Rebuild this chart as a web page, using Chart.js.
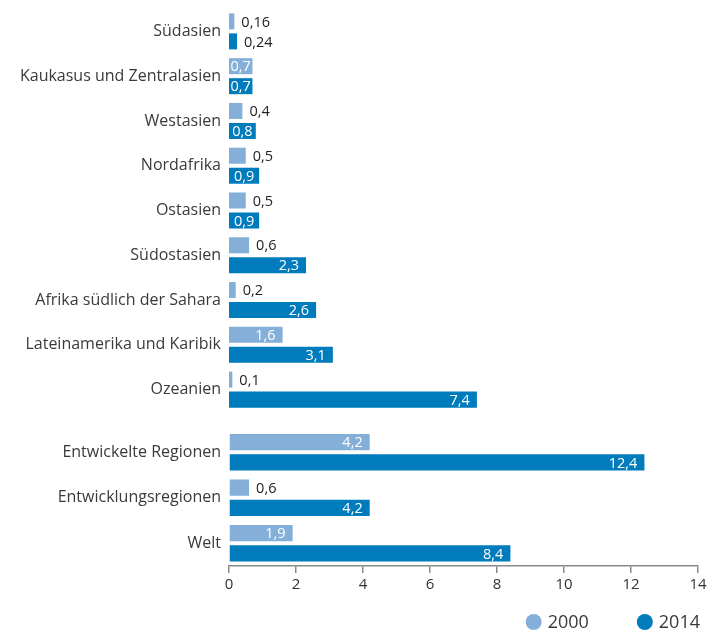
<!DOCTYPE html>
<html lang="de">
<head>
    <meta charset="UTF-8">
    <title>Regionen 2000 / 2014</title>
    <style>
        body {
            margin: 0;
            padding: 0;
            background: #ffffff;
        }
        .wrap {
            width: 712px;
            height: 636px;
            position: relative;
        }
        #topBox {
            position: absolute;
            left: 0;
            top: 0;
            width: 712px;
            height: 412px;
        }
        #bottomBox {
            position: absolute;
            left: 0;
            top: 412px;
            width: 712px;
            height: 224px;
        }
    </style>
    <script src="https://cdn.jsdelivr.net/npm/chart.js"></script>
</head>
<body>
    <div class="wrap">
        <div id="topBox"><canvas id="topChart"></canvas></div>
        <div id="bottomBox"><canvas id="bottomChart"></canvas></div>
    </div>

    <script>
        // regions (upper block) and aggregates (lower block)
        const regions = ['Südasien', 'Kaukasus und Zentralasien', 'Westasien', 'Nordafrika', 'Ostasien',
            'Südostasien', 'Afrika südlich der Sahara', 'Lateinamerika und Karibik', 'Ozeanien'];
        const regions2000 = [0.16, 0.7, 0.4, 0.5, 0.5, 0.6, 0.2, 1.6, 0.1];
        const regions2014 = [0.24, 0.7, 0.8, 0.9, 0.9, 2.3, 2.6, 3.1, 7.4];

        const groups = ['Entwickelte Regionen', 'Entwicklungsregionen', 'Welt'];
        const groups2000 = [4.2, 0.6, 1.9];
        const groups2014 = [12.4, 4.2, 8.4];

        const seriesNames = ['2000', '2014'];
        const xTicks = [0, 2, 4, 6, 8, 10, 12, 14];

        const light = '#84afd9';
        const dark = '#007bbb';
        const fontFamily = '"Open Sans", Lato, sans-serif';

        // value labels: white inside the bar if it fits, dark next to it otherwise
        const valueLabels = {
            id: 'valueLabels',
            afterDatasetsDraw(chart) {
                const ctx = chart.ctx;
                ctx.save();
                ctx.font = '14.5px ' + fontFamily;
                ctx.textBaseline = 'middle';
                chart.data.datasets.forEach((ds, i) => {
                    const meta = chart.getDatasetMeta(i);
                    meta.data.forEach((bar, j) => {
                        const txt = String(ds.data[j]).replace('.', ',');
                        const w = ctx.measureText(txt).width;
                        const barW = bar.x - bar.base;
                        if (barW >= w + 2) {
                            ctx.fillStyle = '#ffffff';
                            if (barW >= w + 14) {
                                ctx.textAlign = 'right';
                                ctx.fillText(txt, bar.x - 7, bar.y + 1);
                            } else {
                                ctx.textAlign = 'center';
                                ctx.fillText(txt, (bar.x + bar.base) / 2, bar.y + 1);
                            }
                        } else {
                            ctx.fillStyle = '#222222';
                            ctx.textAlign = 'left';
                            ctx.fillText(txt, bar.x + 7, bar.y + 1);
                        }
                    });
                });
                ctx.restore();
            }
        };

        // legend with round markers, bottom right
        const roundLegend = {
            id: 'roundLegend',
            afterDraw(chart) {
                if (!chart.options.showLegend) return;
                const ctx = chart.ctx;
                ctx.save();
                ctx.font = '18px ' + fontFamily;
                ctx.textBaseline = 'middle';
                ctx.textAlign = 'left';
                const y = chart.height - 14;
                let x = chart.width - 12;
                for (let i = chart.data.datasets.length - 1; i >= 0; i--) {
                    const ds = chart.data.datasets[i];
                    const w = ctx.measureText(ds.label).width;
                    const tx = x - w;
                    ctx.fillStyle = '#3a3a3a';
                    ctx.fillText(ds.label, tx, y + 1);
                    ctx.fillStyle = ds.backgroundColor;
                    ctx.beginPath();
                    ctx.arc(tx - 14, y, 8, 0, Math.PI * 2);
                    ctx.fill();
                    x = tx - 22 - 48;
                }
                ctx.restore();
            }
        };

        function makeChart(canvasId, labels, d2000, d2014, showAxis) {
            return new Chart(document.getElementById(canvasId), {
                type: 'bar',
                data: {
                    labels: labels,
                    datasets: [
                        { label: seriesNames[0], data: d2000, backgroundColor: light },
                        { label: seriesNames[1], data: d2014, backgroundColor: dark }
                    ]
                },
                options: {
                    showLegend: showAxis,
                    indexAxis: 'y',
                    responsive: true,
                    maintainAspectRatio: false,
                    animation: false,
                    categoryPercentage: 0.894,
                    barPercentage: 0.8,
                    layout: {
                        padding: showAxis
                            ? { top: 17.5, right: 14, left: 0, bottom: 42 }
                            : { top: 9, right: 14, left: 0, bottom: 0 }
                    },
                    scales: {
                        x: {
                            display: showAxis,
                            min: 0,
                            max: 14,
                            afterBuildTicks(scale) {
                                scale.ticks = xTicks.map(v => ({ value: v }));
                            },
                            afterFit(scale) {
                                scale.height = showAxis ? 28 : 0;
                                scale.paddingLeft = 0;
                                scale.paddingRight = 0;
                            },
                            grid: {
                                drawOnChartArea: false,
                                drawTicks: true,
                                tickLength: 7,
                                color: '#888888',
                                lineWidth: 1.5
                            },
                            border: { display: true, color: '#888888', width: 1.5 },
                            ticks: {
                                color: '#333333',
                                padding: 3,
                                font: { family: fontFamily, size: 15 }
                            }
                        },
                        y: {
                            afterFit(scale) {
                                scale.width = 229;
                                scale.paddingTop = 0;
                                scale.paddingBottom = 0;
                            },
                            grid: { display: false, drawTicks: false },
                            border: { display: false },
                            ticks: {
                                color: '#3a3a3a',
                                padding: 8,
                                font: { family: fontFamily, size: 16 }
                            }
                        }
                    },
                    plugins: {
                        legend: { display: false },
                        tooltip: { enabled: false }
                    }
                },
                plugins: [valueLabels, roundLegend]
            });
        }

        makeChart('topChart', regions, regions2000, regions2014, false);
        makeChart('bottomChart', groups, groups2000, groups2014, true);
    </script>
</body>
</html>
